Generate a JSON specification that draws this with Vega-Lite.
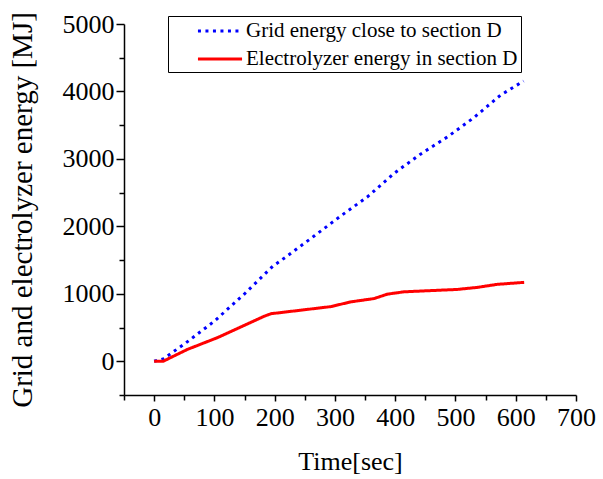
{
  "$schema": "https://vega.github.io/schema/vega-lite/v6.json",
  "width": 452,
  "height": 371,
  "autosize": "none",
  "padding": {"left": 124, "top": 24, "right": 27, "bottom": 84},
  "background": "white",
  "config": {
    "view": {"stroke": null},
    "axis": {
      "domainColor": "black",
      "domainWidth": 1.5,
      "tickColor": "black",
      "tickWidth": 1.5,
      "labelColor": "black",
      "titleColor": "black",
      "titleFont": "Liberation Serif",
      "titleFontWeight": "normal",
      "grid": false
    }
  },
  "data": {
    "values": [
      {"series": "Grid energy close to section D", "t": 0, "e": 0},
      {"series": "Grid energy close to section D", "t": 15, "e": 35},
      {"series": "Grid energy close to section D", "t": 50, "e": 255},
      {"series": "Grid energy close to section D", "t": 100, "e": 595},
      {"series": "Grid energy close to section D", "t": 150, "e": 1000},
      {"series": "Grid energy close to section D", "t": 197, "e": 1410},
      {"series": "Grid energy close to section D", "t": 220, "e": 1555},
      {"series": "Grid energy close to section D", "t": 266, "e": 1860},
      {"series": "Grid energy close to section D", "t": 310, "e": 2156},
      {"series": "Grid energy close to section D", "t": 354, "e": 2438},
      {"series": "Grid energy close to section D", "t": 398, "e": 2785},
      {"series": "Grid energy close to section D", "t": 442, "e": 3071},
      {"series": "Grid energy close to section D", "t": 487, "e": 3328},
      {"series": "Grid energy close to section D", "t": 531, "e": 3615},
      {"series": "Grid energy close to section D", "t": 575, "e": 3947},
      {"series": "Grid energy close to section D", "t": 613, "e": 4154},
      {"series": "Electrolyzer energy in section D", "t": 0, "e": 0},
      {"series": "Electrolyzer energy in section D", "t": 15, "e": 0},
      {"series": "Electrolyzer energy in section D", "t": 55, "e": 175},
      {"series": "Electrolyzer energy in section D", "t": 105, "e": 350},
      {"series": "Electrolyzer energy in section D", "t": 138, "e": 485},
      {"series": "Electrolyzer energy in section D", "t": 182, "e": 665},
      {"series": "Electrolyzer energy in section D", "t": 194, "e": 705},
      {"series": "Electrolyzer energy in section D", "t": 227, "e": 740},
      {"series": "Electrolyzer energy in section D", "t": 293, "e": 810},
      {"series": "Electrolyzer energy in section D", "t": 326, "e": 880},
      {"series": "Electrolyzer energy in section D", "t": 365, "e": 930},
      {"series": "Electrolyzer energy in section D", "t": 387, "e": 995},
      {"series": "Electrolyzer energy in section D", "t": 415, "e": 1030},
      {"series": "Electrolyzer energy in section D", "t": 503, "e": 1065},
      {"series": "Electrolyzer energy in section D", "t": 536, "e": 1095},
      {"series": "Electrolyzer energy in section D", "t": 569, "e": 1140},
      {"series": "Electrolyzer energy in section D", "t": 614, "e": 1170}
    ]
  },
  "mark": {"type": "line", "clip": true},
  "encoding": {
    "x": {
      "field": "t",
      "type": "quantitative",
      "scale": {"domain": [-50, 700], "nice": false, "zero": false},
      "axis": {
        "title": "Time[sec]",
        "values": [-50, 0, 50, 100, 150, 200, 250, 300, 350, 400, 450, 500, 550, 600, 650, 700],
        "format": "d",
        "labelExpr": "datum.value % 100 === 0 ? datum.label : ''",
        "labelFont": "Liberation Serif",
        "labelFontSize": 26,
        "titleFontSize": 26,
        "tickSize": {"condition": {"test": "datum.value % 100 === 0", "value": 6}, "value": 5},
        "labelPadding": 3,
        "titlePadding": 18,
        "labelOverlap": false,
        "labelFlush": false
      }
    },
    "y": {
      "field": "e",
      "type": "quantitative",
      "scale": {"domain": [-500, 5000], "nice": false, "zero": false},
      "axis": {
        "title": "Grid and electrolyzer energy [MJ]",
        "values": [-500, 0, 500, 1000, 1500, 2000, 2500, 3000, 3500, 4000, 4500, 5000],
        "format": "d",
        "labelExpr": "datum.value % 1000 === 0 ? datum.label : ''",
        "labelFont": "Liberation Serif",
        "labelFontSize": 26,
        "titleFontSize": 29,
        "tickSize": {"condition": {"test": "datum.value % 1000 === 0", "value": 8}, "value": 5},
        "labelPadding": 2,
        "titlePadding": 25,
        "labelOverlap": false,
        "labelFlush": false
      }
    },
    "color": {
      "field": "series",
      "type": "nominal",
      "scale": {
        "domain": ["Grid energy close to section D", "Electrolyzer energy in section D"],
        "range": ["#0000ff", "#ff0000"]
      },
      "legend": {
        "title": null,
        "orient": "none",
        "legendX": 44,
        "legendY": -8,
        "symbolType": "M-2.1,0H2.1",
        "symbolSize": 441,
        "symbolStrokeWidth": 3,
        "labelFont": "Liberation Serif",
        "labelFontSize": 21,
        "labelLimit": 400,
        "labelOffset": 14,
        "symbolOffset": 37,
        "rowPadding": 6,
        "padding": 3,
        "strokeColor": "black",
        "fillColor": "white"
      }
    },
    "strokeDash": {
      "field": "series",
      "type": "nominal",
      "scale": {
        "domain": ["Grid energy close to section D", "Electrolyzer energy in section D"],
        "range": [[3, 4.5], [1, 0]]
      },
      "legend": null
    },
    "strokeWidth": {"value": 3}
  }
}
